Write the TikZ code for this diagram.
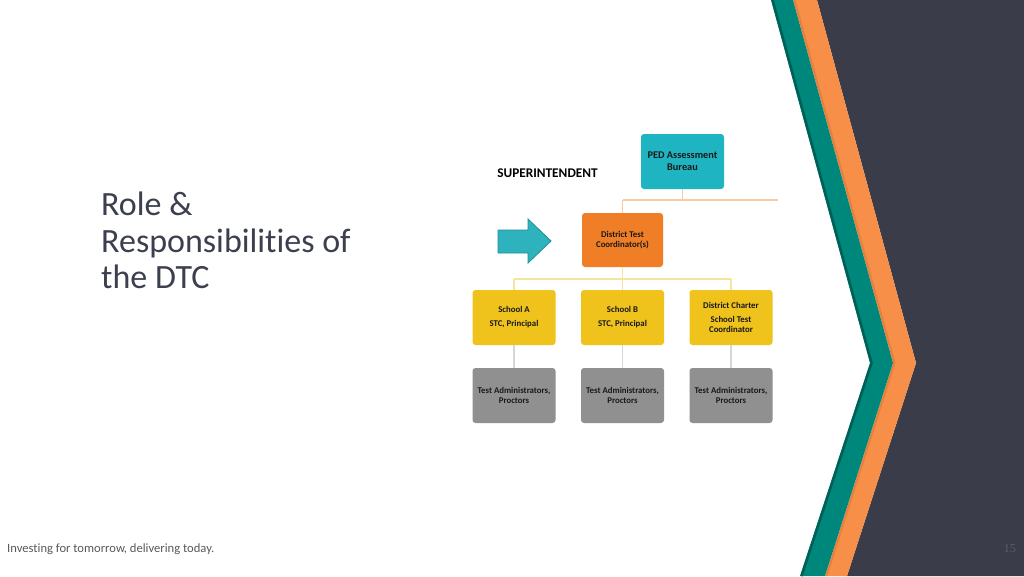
\documentclass[tikz,border=0pt]{standalone}
\usepackage{fontspec}
\setmainfont[Ligatures={NoCommon,NoContextual}]{Carlito}
\newfontfamily\numfont{Liberation Serif}
\definecolor{darkbg}{HTML}{3A3C4A}
\definecolor{bandteal}{HTML}{00877B}
\definecolor{bandtealdk}{HTML}{005F56}
\definecolor{bandorange}{HTML}{F78F48}
\definecolor{bandorangedk}{HTML}{D8783A}
\definecolor{pedteal}{HTML}{1EB4C1}
\definecolor{dtcorange}{HTML}{F07E26}
\definecolor{schyellow}{HTML}{EFC21C}
\definecolor{tagray}{HTML}{909090}
\definecolor{arrowteal}{HTML}{2DB2BE}
\definecolor{arrowedge}{HTML}{1F8E98}
\definecolor{lineorange}{HTML}{F9CBA3}
\definecolor{lineyellow}{HTML}{F5E3A0}
\definecolor{linegray}{HTML}{D6D6D6}
\definecolor{titlecol}{HTML}{3C3F4E}
\definecolor{footcol}{HTML}{595959}
\definecolor{numcol}{HTML}{5A5D6E}
\tikzset{
  orgbox/.style={rounded corners=3pt, inner sep=1pt, align=center, text=black!90,
    font=\bfseries\fontsize{8.8}{10}\selectfont},
  pedbox/.style={orgbox, fill=pedteal, minimum width=83pt, minimum height=55pt,
    font=\bfseries\fontsize{10.3}{12}\selectfont},
  dtcbox/.style={orgbox, fill=dtcorange, minimum width=81pt, minimum height=54pt},
  schbox/.style={orgbox, fill=schyellow, minimum width=83pt, minimum height=55pt},
  tabox/.style={orgbox, fill=tagray, minimum width=83pt, minimum height=55pt},
  olink/.style={draw=lineorange, line width=1.3pt},
  ylink/.style={draw=lineyellow, line width=1.3pt},
  glink/.style={draw=linegray, line width=1.3pt},
  titletext/.style={anchor=base west, inner sep=0pt, text=titlecol,
    font=\fontsize{34}{36.5}\selectfont},
}
\begin{document}
\begin{tikzpicture}[x=1pt, y=-1pt]
\useasboundingbox (0,0) rectangle (1024,576);
\fill[white] (0,0) rectangle (1024,576);
% chevron bands
\fill[darkbg] (817,0) -- (1024,0) -- (1024,576) -- (847,576) -- (916,363) -- cycle;
\fill[bandorange] (793,0) -- (817,0) -- (916,363) -- (847,576) -- (825,576) -- (893,363) -- cycle;
\fill[bandteal] (771,0) -- (793,0) -- (893,363) -- (825,576) -- (800,576) -- (870,363) -- cycle;
\draw[bandtealdk, line width=2.5pt] (772.5,0) -- (871.5,363) -- (801.5,576);
\draw[bandorangedk, line width=2pt, opacity=0.6] (794.5,0) -- (894.5,363) -- (826.5,576);
% title and footer
\node[titletext] (t1) at (101,215) {Role \&};
\node[titletext] (t2) at (101,252) {Responsibilities of};
\node[titletext] (t3) at (101,288) {the DTC};
\node[anchor=base west, inner sep=0pt, text=footcol, font=\fontsize{12.6}{14}\selectfont]
  (foot) at (7,552) {Investing for tomorrow, delivering today.};
\node[anchor=base east, inner sep=0pt, text=numcol, font=\numfont\fontsize{12}{14}\selectfont]
  (pnum) at (1016,552) {15};
% org chart
\node[anchor=center, inner sep=0pt, text=black, font=\bfseries\fontsize{13.3}{15}\selectfont]
  (sup) at (547.5,173) {SUPERINTENDENT};
\coordinate (j1) at (682.5,200);
\coordinate (jl) at (622.5,200);
\coordinate (jr) at (778,200);
\coordinate (k1) at (622.5,279);
\coordinate (kl) at (514,279);
\coordinate (kr) at (731,279);
\draw[olink] (jl) -- (jr);
\draw[ylink] (kl) -- (kr);
\node[pedbox] (ped) at (682.5,161.5) {PED Assessment\\Bureau};
\node[dtcbox] (dtc) at (622.5,240) {District Test\\Coordinator(s)};
\node[schbox] (sa) at (514,317.5) {School A\\[4pt]STC, Principal};
\node[schbox] (sb) at (622.5,317.5) {School B\\[4pt]STC, Principal};
\node[schbox] (sc) at (731,317.5) {District Charter\\[4pt]School Test\\Coordinator};
\node[tabox] (ta) at (514,395.5) {Test Administrators,\\Proctors};
\node[tabox] (tb) at (622.5,395.5) {Test Administrators,\\Proctors};
\node[tabox] (tc) at (731,395.5) {Test Administrators,\\Proctors};
\draw[olink] (ped.south) -- (j1);
\draw[olink] (jl) -- (dtc.north);
\draw[ylink] (dtc.south) -- (k1);
\draw[ylink] (kl) -- (sa.north);
\draw[ylink] (k1) -- (sb.north);
\draw[ylink] (kr) -- (sc.north);
\draw[glink] (sa.south) -- (ta.north);
\draw[glink] (sb.south) -- (tb.north);
\draw[glink] (sc.south) -- (tc.north);
% arrow
\filldraw[fill=arrowteal, draw=arrowedge, line width=0.8pt]
  (498,230) -- (528,230) -- (528,219) -- (551,241) -- (528,263) -- (528,253) -- (498,253) -- cycle;
\end{tikzpicture}
\end{document}
